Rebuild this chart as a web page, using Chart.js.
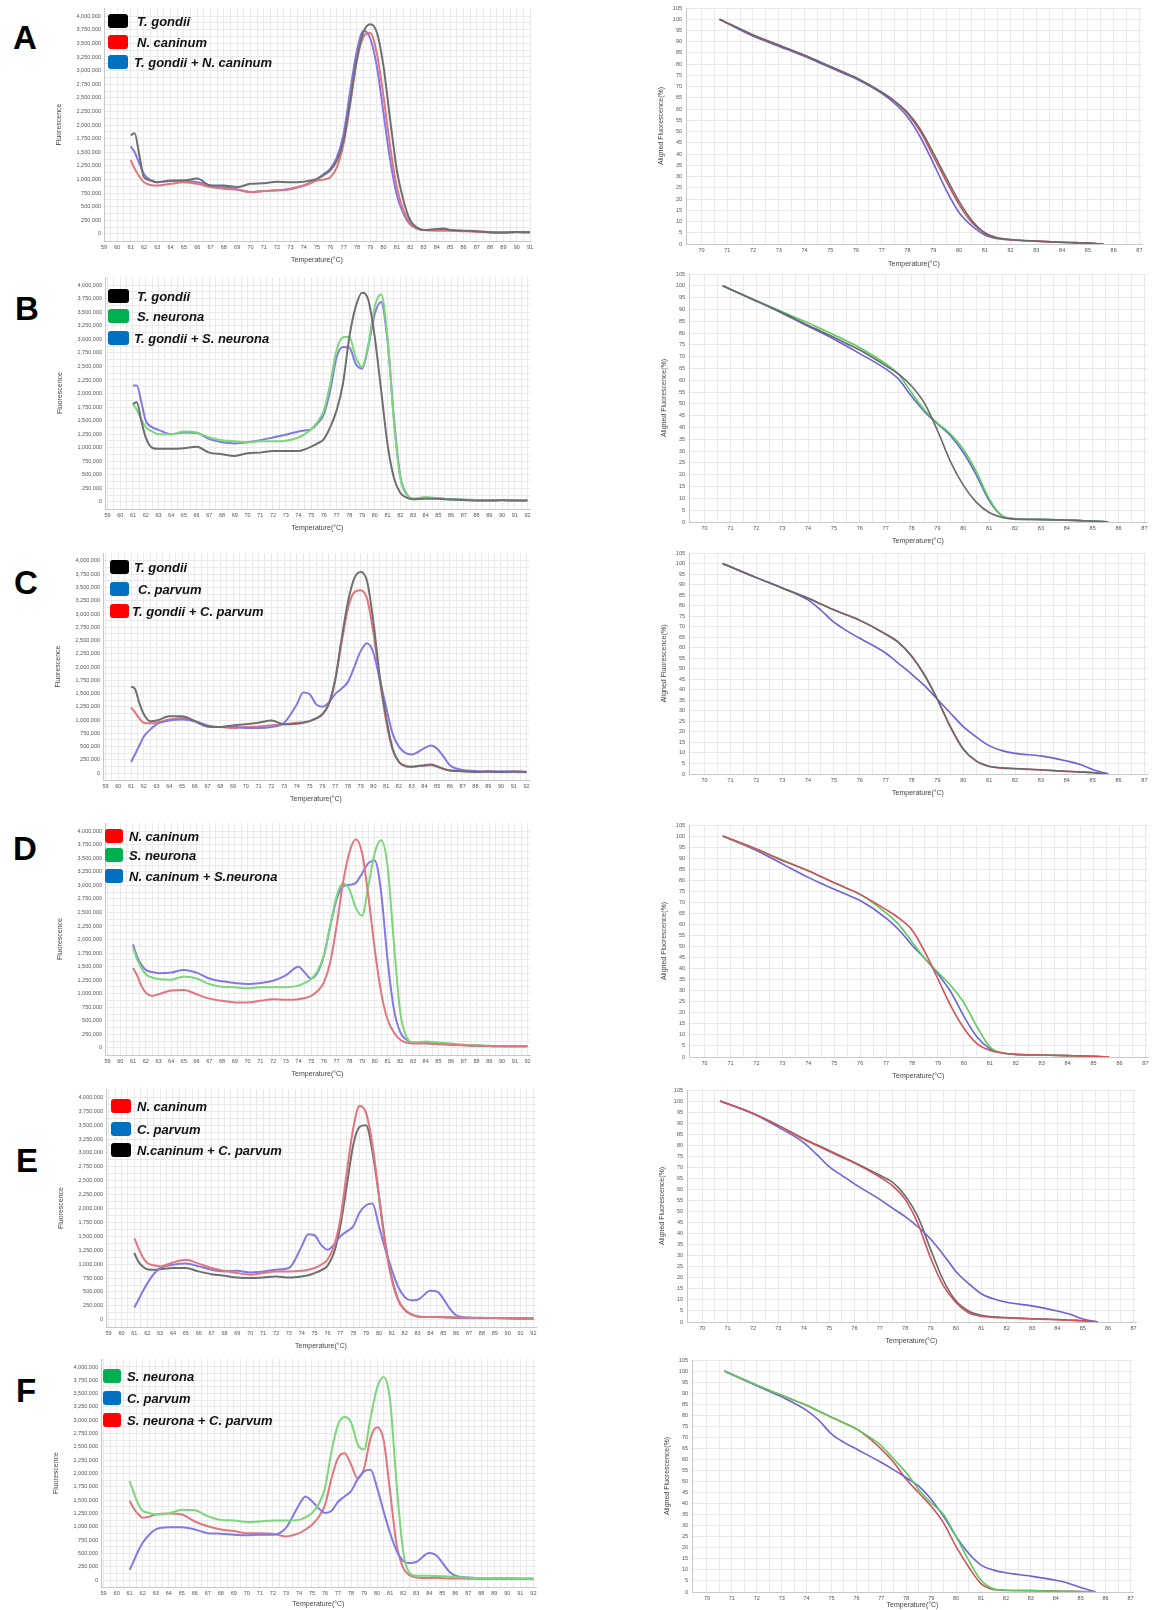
<!DOCTYPE html>
<html>
<head>
<meta charset="utf-8">
<script src="https://cdn.jsdelivr.net/npm/chart.js@4.4.1/dist/chart.umd.min.js"></script>
<style>
  html, body { margin: 0; padding: 0; background: #fff; overflow: hidden; }
  #page { position: relative; width: 1155px; height: 1610px; }
  #page canvas { position: absolute; }
  .letter { position: absolute; font: bold 33px 'Liberation Sans', Arial, sans-serif; line-height: 1; transform: translate(-50%, -50%); color: #000; }
  .sw { position: absolute; height: 14px; border-radius: 3px; }
  .key { position: absolute; font: italic bold 13px 'Liberation Sans', Arial, sans-serif; line-height: 1; transform: translateY(-50%); color: #111; white-space: nowrap; }
</style>
</head>
<body>
<div id="page"></div>
<script>
// ---- melt peak data (left column), fluorescence in thousands ----
const meltTemps = [61, 61.3, 61.65, 62, 62.5, 63, 64, 65, 66, 67, 68, 69, 70, 71, 72, 73, 74, 74.5, 75, 75.5, 76, 76.5, 77, 77.5, 78, 78.5, 79, 79.5, 80, 80.5, 81, 81.5, 82, 82.5, 83, 84, 84.5, 85, 85.5, 86, 87, 88, 89, 90, 91, 92];

const meltA_tgondii = [1810, 1850, 1450, 1040, 980, 950, 980, 980, 1020, 890, 890, 860, 920, 930, 960, 950, 960, 980, 1010, 1080, 1170, 1350, 1720, 2450, 3220, 3710, 3850, 3700, 3070, 2090, 1170, 610, 250, 120, 70, 90, 100, 70, 65, 60, 50, 30, 25, 35, 30, 30];
const meltA_ncaninum = [1360, 1200, 1060, 950, 900, 890, 920, 950, 920, 860, 830, 810, 770, 790, 800, 820, 890, 930, 980, 1000, 1040, 1230, 1660, 2390, 3190, 3620, 3690, 3310, 2520, 1600, 860, 430, 200, 100, 70, 60, 60, 60, 55, 50, 40, 25, 20, 35, 30, 30];
const meltA_mix = [1610, 1500, 1300, 1100, 990, 950, 970, 980, 950, 890, 860, 820, 770, 790, 800, 830, 890, 940, 1010, 1100, 1200, 1410, 1840, 2640, 3370, 3730, 3590, 3070, 2210, 1350, 710, 370, 170, 100, 70, 80, 85, 70, 60, 55, 45, 30, 25, 35, 30, 30];

const meltB_tgondii = [1810, 1840, 1500, 1190, 1000, 980, 980, 990, 1020, 910, 880, 850, 900, 910, 940, 940, 940, 970, 1020, 1080, 1160, 1380, 1690, 2180, 3040, 3600, 3860, 3720, 3040, 2060, 1070, 450, 170, 80, 50, 60, 60, 60, 50, 45, 35, 25, 25, 30, 25, 25];
const meltB_sneurona = [1810, 1700, 1520, 1380, 1300, 1250, 1250, 1300, 1280, 1190, 1140, 1120, 1100, 1120, 1120, 1130, 1190, 1250, 1340, 1480, 1690, 2180, 2800, 3040, 3050, 2670, 2490, 2910, 3600, 3830, 3040, 1500, 450, 140, 60, 90, 80, 70, 60, 50, 45, 35, 25, 35, 30, 25];
const meltB_mix = [2150, 2150, 1850, 1500, 1380, 1330, 1250, 1280, 1270, 1160, 1100, 1080, 1100, 1140, 1190, 1240, 1300, 1320, 1340, 1450, 1620, 2060, 2670, 2860, 2850, 2550, 2460, 2880, 3470, 3690, 2980, 1560, 480, 150, 60, 80, 75, 65, 55, 50, 40, 30, 25, 35, 30, 25];

const meltC_tgondii = [1630, 1590, 1320, 1110, 980, 990, 1070, 1070, 980, 880, 870, 900, 920, 950, 990, 920, 930, 950, 980, 1030, 1110, 1300, 1750, 2520, 3220, 3670, 3790, 3620, 2850, 1820, 1050, 470, 210, 130, 120, 150, 160, 130, 80, 50, 35, 20, 30, 20, 30, 20];
const meltC_cparvum = [210, 350, 520, 690, 820, 920, 990, 1010, 980, 900, 870, 880, 850, 850, 870, 950, 1300, 1520, 1490, 1300, 1250, 1330, 1490, 1590, 1720, 2000, 2300, 2450, 2270, 1760, 1240, 750, 500, 380, 350, 470, 520, 460, 310, 150, 60, 40, 30, 35, 25, 25];
const meltC_mix = [1240, 1150, 1030, 950, 940, 950, 1010, 1040, 970, 880, 870, 850, 870, 880, 900, 920, 950, 960, 980, 1030, 1110, 1300, 1750, 2450, 3100, 3410, 3450, 3290, 2650, 1760, 980, 440, 210, 140, 120, 140, 150, 120, 80, 50, 35, 20, 30, 20, 30, 20];

const meltD_ncaninum = [1470, 1350, 1150, 1020, 960, 990, 1060, 1070, 990, 910, 870, 840, 840, 870, 900, 890, 900, 920, 960, 1050, 1210, 1580, 2250, 3040, 3600, 3850, 3600, 2800, 1820, 1020, 530, 290, 150, 100, 80, 80, 75, 70, 65, 60, 50, 40, 35, 30, 30, 30];
const meltD_sneurona = [1850, 1650, 1480, 1360, 1300, 1270, 1260, 1320, 1280, 1180, 1130, 1120, 1100, 1120, 1120, 1120, 1150, 1200, 1270, 1420, 1700, 2250, 2800, 3040, 2930, 2590, 2440, 2990, 3600, 3830, 3360, 1950, 660, 200, 100, 120, 110, 100, 90, 80, 60, 50, 40, 35, 30, 30];
const meltD_mix = [1910, 1700, 1540, 1440, 1400, 1380, 1390, 1440, 1390, 1280, 1230, 1200, 1180, 1200, 1240, 1340, 1500, 1390, 1280, 1390, 1700, 2250, 2740, 2980, 3010, 3040, 3220, 3410, 3460, 2870, 1640, 720, 290, 150, 100, 90, 85, 80, 70, 60, 50, 40, 35, 30, 30, 30];

const meltE_ncaninum = [1470, 1300, 1130, 1020, 980, 960, 1030, 1080, 1010, 930, 880, 840, 810, 840, 870, 870, 880, 900, 930, 990, 1080, 1320, 1810, 2650, 3440, 3850, 3720, 3140, 2230, 1320, 720, 350, 180, 100, 60, 50, 50, 50, 45, 40, 35, 30, 30, 30, 25, 25];
const meltE_cparvum = [220, 350, 510, 650, 820, 930, 990, 1010, 960, 900, 870, 880, 850, 870, 900, 930, 1320, 1540, 1520, 1350, 1260, 1350, 1500, 1590, 1680, 1930, 2060, 2090, 1680, 1260, 900, 590, 410, 350, 360, 520, 510, 380, 200, 80, 40, 35, 30, 30, 25, 25];
const meltE_mix = [1200, 1050, 960, 910, 900, 910, 930, 930, 870, 820, 790, 760, 750, 760, 780, 760, 780, 800, 840, 890, 970, 1200, 1680, 2410, 3140, 3470, 3500, 3020, 2230, 1380, 750, 360, 180, 100, 60, 50, 50, 45, 40, 35, 30, 30, 30, 25, 25, 25];

const meltF_sneurona = [1860, 1650, 1430, 1300, 1260, 1230, 1250, 1320, 1310, 1200, 1130, 1120, 1090, 1100, 1120, 1120, 1130, 1180, 1260, 1420, 1730, 2420, 2920, 3060, 2960, 2550, 2450, 3050, 3610, 3810, 3360, 1790, 540, 130, 80, 80, 75, 70, 65, 60, 45, 35, 30, 30, 25, 25];
const meltF_cparvum = [190, 350, 540, 700, 850, 950, 990, 990, 950, 880, 870, 850, 840, 850, 850, 980, 1410, 1570, 1480, 1350, 1260, 1300, 1470, 1570, 1670, 1890, 2040, 2070, 1730, 1290, 880, 550, 360, 320, 340, 510, 470, 330, 170, 80, 50, 30, 30, 30, 25, 25];
const meltF_mix = [1490, 1350, 1240, 1170, 1190, 1230, 1250, 1230, 1100, 1010, 950, 920, 880, 880, 870, 820, 880, 950, 1040, 1180, 1410, 1910, 2290, 2380, 2170, 1910, 2100, 2670, 2870, 2630, 1650, 660, 230, 90, 50, 40, 40, 35, 30, 30, 25, 25, 25, 25, 25, 25];

// ---- aligned melt curves (right column), percent ----
const alignTemps = [70.7, 72, 73, 74, 74.5, 75, 75.5, 76, 77, 77.5, 78, 78.5, 79, 79.5, 80, 80.5, 81, 81.5, 82, 83, 84, 84.5, 85, 85.6];

const alignA_tgondii = [100, 93, 88.5, 84, 81.5, 79, 76.5, 74, 67.5, 63.5, 58.5, 51, 40.5, 29.5, 19, 10.5, 5, 2.8, 2, 1.3, 0.8, 0.6, 0.4, 0];
const alignA_ncaninum = [100, 93, 88.5, 84, 81.5, 79, 76.5, 74, 67.5, 63.5, 58, 50, 39, 28, 17.5, 9.5, 4.8, 2.6, 1.9, 1.3, 0.8, 0.6, 0.4, 0];
const alignA_mix = [100, 92.5, 88, 83.5, 81, 78.5, 76, 73.5, 67, 62.5, 56.5, 47.5, 36, 24, 14, 8, 4, 2.3, 1.8, 1.2, 0.7, 0.5, 0.3, 0];

const alignB_tgondii = [100, 93.7, 88.7, 83.3, 80.8, 78.2, 75.5, 72.8, 66.2, 62.6, 57.6, 50.3, 38.8, 25.7, 15.6, 8.4, 4, 1.9, 1.2, 1, 0.8, 0.6, 0.4, 0];
const alignB_sneurona = [100, 93.7, 89, 84.3, 81.8, 79.3, 76.6, 73.8, 67, 62.6, 54.7, 47.4, 41.9, 37.3, 30.8, 21.4, 9.8, 2.6, 1.4, 1.1, 0.8, 0.6, 0.4, 0];
const alignB_mix = [100, 93.5, 88.4, 82.9, 80.2, 77.4, 74.4, 71.3, 64.8, 60.5, 53.2, 46.7, 41.6, 36.6, 29.4, 20, 9.1, 2.6, 1.4, 1.1, 0.8, 0.6, 0.4, 0];

const alignC_tgondii = [100, 93.3, 88.4, 83.5, 80.7, 77.9, 75.5, 73, 66.4, 62.4, 55.9, 46.9, 35.5, 22.5, 11.9, 6.2, 3.7, 2.9, 2.6, 2, 1.3, 1, 0.7, 0];
const alignC_cparvum = [100, 93.3, 88.4, 82.7, 77.8, 72.1, 68, 64.5, 57.5, 52.5, 47.5, 42, 35.5, 29, 22.5, 17.6, 13.5, 11.1, 9.8, 8.6, 6.2, 4.6, 2.1, 0];
const alignC_mix = [100, 93.3, 88.4, 83.6, 80.8, 78, 75.6, 73.1, 66.6, 62.6, 56.2, 47.2, 35.5, 22.3, 11.7, 6.1, 3.6, 2.8, 2.5, 1.9, 1.2, 1, 0.6, 0];

const alignD_ncaninum = [100, 94.1, 88.9, 84.3, 81.6, 78.9, 76.3, 73.6, 66.7, 62.8, 57.5, 47.5, 35.3, 23, 13, 6.1, 3.1, 1.8, 1.2, 0.9, 0.6, 0.5, 0.3, 0];
const alignD_sneurona = [100, 94.1, 89.2, 84.3, 81.6, 78.9, 76.3, 73.6, 65.2, 59.8, 52.1, 44.5, 38.3, 32.2, 24.5, 13.8, 4.6, 1.8, 1.2, 0.9, 0.6, 0.5, 0.3, 0];
const alignD_mix = [100, 93.5, 87.4, 81.3, 78.5, 75.9, 73.4, 70.8, 62.9, 57.5, 50.6, 44.5, 37.6, 29.4, 18.4, 9.2, 3.8, 1.8, 1.2, 0.9, 0.6, 0.5, 0.3, 0];

const alignE_ncaninum = [100, 94.4, 89, 82.7, 80, 77.3, 74.6, 71.9, 65.6, 61.7, 55.5, 44.6, 29.1, 16.6, 8.9, 4.2, 2.6, 2.1, 1.9, 1.4, 1, 0.8, 0.6, 0];
const alignE_cparvum = [100, 94.4, 88.2, 81.2, 76, 70.3, 66.4, 62.5, 55.5, 51.5, 47.7, 43.1, 37.6, 30.6, 22.9, 17.4, 12.8, 10.4, 8.9, 7.3, 5, 3.5, 1.4, 0];
const alignE_mix = [100, 94.4, 89, 83, 80.3, 77.6, 74.9, 72.2, 66.4, 63.3, 57.1, 47.7, 33, 19, 9.6, 5, 3, 2.3, 2, 1.5, 1.1, 0.8, 0.6, 0];

const alignF_sneurona = [100, 93.6, 89, 84.5, 81.8, 79.1, 76.5, 73.8, 66.2, 60.1, 54, 46.4, 40.3, 35, 25.1, 14.5, 5.3, 1.5, 0.8, 0.6, 0.4, 0.3, 0.2, 0];
const alignF_cparvum = [100, 93.3, 88.3, 82.2, 77.6, 71.5, 67.7, 64.7, 58.6, 55.3, 51.7, 47.9, 41.9, 34.2, 25.1, 17.5, 12.2, 9.9, 8.7, 7.2, 5.3, 4, 2, 0];
const alignF_mix = [100, 93.6, 89, 84.5, 81.8, 79.1, 76.5, 73.8, 64.7, 58.6, 51, 44.9, 38.8, 31.2, 20.5, 11.4, 3.8, 1.2, 0.8, 0.6, 0.4, 0.3, 0.2, 0];

// ---- legend names ----
const namesA = ['T. gondii', 'N. caninum', 'T. gondii  + N. caninum'];
const namesB = ['T. gondii', 'S. neurona', 'T. gondii + S. neurona'];
const namesC = ['T. gondii', 'C. parvum', 'T. gondii + C. parvum'];
const namesD = ['N. caninum', 'S. neurona', 'N. caninum + S.neurona'];
const namesE = ['N. caninum', 'C. parvum', 'N.caninum + C. parvum'];
const namesF = ['S. neurona', 'C. parvum', 'S. neurona + C. parvum'];

// ---- tick labels ----
const fluorTicks = [0, 250000, 500000, 750000, 1000000, 1250000, 1500000, 1750000, 2000000, 2250000, 2500000, 2750000, 3000000, 3250000, 3500000, 3750000, 4000000];
const meltTickLabels = [59, 60, 61, 62, 63, 64, 65, 66, 67, 68, 69, 70, 71, 72, 73, 74, 75, 76, 77, 78, 79, 80, 81, 82, 83, 84, 85, 86, 87, 88, 89, 90, 91, 92];
const percentTicks = [0, 5, 10, 15, 20, 25, 30, 35, 40, 45, 50, 55, 60, 65, 70, 75, 80, 85, 90, 95, 100, 105];
const alignTickLabels = [70, 71, 72, 73, 74, 75, 76, 77, 78, 79, 80, 81, 82, 83, 84, 85, 86, 87];

// ---- styling ----
const lineColors = { black: '#6f6f6f', red: '#e2757e', green: '#7ad77a', blue: '#8279e6' };
const alignColors = { black: '#6a6a6a', red: '#d2515a', green: '#5acd5a', blue: '#6a62d8' };
const keyColors = { black: '#000000', red: '#ff0000', green: '#00b050', blue: '#0070c0' };
const FONT = 'Liberation Sans';

const panels = [
  { letter: 'A', lx: 25, ly: 37, names: namesA, colors: ['black', 'red', 'blue'],
    melt: [meltA_tgondii, meltA_ncaninum, meltA_mix], align: [alignA_tgondii, alignA_ncaninum, alignA_mix],
    left: { y4M: 16, y0: 234, l: 104, r: 530, xMin: 59, xMax: 91, xH: 24 },
    right: { yTop: 8, y0: 244, l: 686, r: 1142, xH: 25 },
    key: { rows: [21, 42, 62], swL: 108, swR: 128, tx: [137, 137, 134] } },
  { letter: 'B', lx: 27, ly: 308, names: namesB, colors: ['black', 'green', 'blue'],
    melt: [meltB_tgondii, meltB_sneurona, meltB_mix], align: [alignB_tgondii, alignB_sneurona, alignB_mix],
    left: { y4M: 285, y0: 502, l: 105, r: 530, xMin: 58.8, xMax: 92.2, xH: 24 },
    right: { yTop: 274, y0: 522, l: 689, r: 1147, xH: 24 },
    key: { rows: [296, 316, 338], swL: 108, swR: 129, tx: [137, 137, 134] } },
  { letter: 'C', lx: 26, ly: 582, names: namesC, colors: ['black', 'blue', 'red'],
    melt: [meltC_tgondii, meltC_cparvum, meltC_mix], align: [alignC_tgondii, alignC_cparvum, alignC_mix],
    left: { y4M: 561, y0: 773, l: 103, r: 529, xMin: 58.8, xMax: 92.2, xH: 24 },
    right: { yTop: 553, y0: 774, l: 689, r: 1147, xH: 24 },
    key: { rows: [567, 589, 611], swL: 110, swR: 129, tx: [134, 138, 132] } },
  { letter: 'D', lx: 25, ly: 848, names: namesD, colors: ['red', 'green', 'blue'],
    melt: [meltD_ncaninum, meltD_sneurona, meltD_mix], align: [alignD_ncaninum, alignD_sneurona, alignD_mix],
    left: { y4M: 831, y0: 1048, l: 105, r: 530, xMin: 58.8, xMax: 92.2, xH: 24 },
    right: { yTop: 825, y0: 1057, l: 689, r: 1148, xH: 24 },
    key: { rows: [836, 855, 876], swL: 105, swR: 123, tx: [129, 129, 129] } },
  { letter: 'E', lx: 27, ly: 1160, names: namesE, colors: ['red', 'blue', 'black'],
    melt: [meltE_ncaninum, meltE_cparvum, meltE_mix], align: [alignE_ncaninum, alignE_cparvum, alignE_mix],
    left: { y4M: 1097, y0: 1319, l: 106, r: 536, xMin: 58.8, xMax: 92.2, xH: 24 },
    right: { yTop: 1090, y0: 1322, l: 687, r: 1136, xH: 24 },
    key: { rows: [1106, 1129, 1150], swL: 111, swR: 131, tx: [137, 137, 137] } },
  { letter: 'F', lx: 26, ly: 1390, names: namesF, colors: ['green', 'blue', 'red'],
    melt: [meltF_sneurona, meltF_cparvum, meltF_mix], align: [alignF_sneurona, alignF_cparvum, alignF_mix],
    left: { y4M: 1367, y0: 1580, l: 101, r: 536, xMin: 58.8, xMax: 92.2, xH: 22 },
    right: { yTop: 1360, y0: 1592, l: 692, r: 1133, xH: 18 },
    key: { rows: [1376, 1398, 1420], swL: 103, swR: 121, tx: [127, 127, 127] } }
];

const page = document.getElementById('page');
const PAD = 6;

function withHalves(ticks) {
  const out = [];
  ticks.forEach((t, i) => {
    out.push(t);
    if (i < ticks.length - 1) out.push((t + ticks[i + 1]) / 2);
  });
  return out;
}

function zeroPad(scale) {
  scale.paddingTop = 0; scale.paddingBottom = 0;
  scale.paddingLeft = 0; scale.paddingRight = 0;
}

function addChart(box, s) {
  const c = document.createElement('canvas');
  const w = Math.round(box.r - box.l + s.yW + PAD);
  const h = Math.round(box.b - box.t + s.xH + PAD);
  c.width = w; c.height = h;
  c.style.width = w + 'px'; c.style.height = h + 'px';
  c.style.left = Math.round(box.l - s.yW) + 'px';
  c.style.top = Math.round(box.t - PAD) + 'px';
  page.appendChild(c);

  const xLabels = new Set(s.xLabels);
  const yLabels = new Set(s.yLabels);
  const gridColor = '#e9e9e9';
  const tickFont = { family: FONT, size: 5.5 };
  const titleFont = { family: FONT, size: 7 };

  new Chart(c, {
    type: 'line',
    data: {
      datasets: s.series.map((vals, i) => ({
        data: s.temps.map((t, j) => ({ x: t, y: vals[j] * s.unit })),
        borderColor: s.colors[i],
        borderWidth: s.lineW,
        pointRadius: 0,
        cubicInterpolationMode: 'monotone',
        fill: false
      }))
    },
    options: {
      responsive: false,
      animation: false,
      devicePixelRatio: 1,
      layout: { padding: { top: PAD, right: PAD, left: 0, bottom: 0 } },
      plugins: { legend: { display: false }, tooltip: { enabled: false } },
      scales: {
        x: {
          type: 'linear', min: s.xMin, max: s.xMax,
          afterBuildTicks: sc => { sc.ticks = withHalves(s.xLabels).map(v => ({ value: v })); },
          afterFit: sc => { sc.height = s.xH; zeroPad(sc); },
          grid: { color: gridColor, drawTicks: false },
          border: { color: '#c8c8c8' },
          ticks: {
            autoSkip: false, maxRotation: 0, padding: 3, color: '#555', font: tickFont,
            callback: v => xLabels.has(v) ? String(v) : ''
          },
          title: { display: true, text: 'Temperature(°C)', color: '#444', font: titleFont, padding: { top: 0, bottom: s.xTitlePad } }
        },
        y: {
          type: 'linear', min: s.yMin, max: s.yMax,
          afterBuildTicks: sc => { sc.ticks = (s.yHalves ? withHalves(s.yLabels) : s.yLabels).map(v => ({ value: v })); },
          afterFit: sc => { sc.width = s.yW; zeroPad(sc); },
          grid: { color: gridColor, drawTicks: false },
          border: { color: '#c8c8c8' },
          ticks: {
            autoSkip: false, padding: s.tickPad, color: '#555', font: tickFont,
            callback: v => yLabels.has(v) ? v.toLocaleString('en-US') : ''
          },
          title: { display: true, text: s.yTitle, color: '#444', font: titleFont, padding: { top: s.titlePad, bottom: 0 } }
        }
      }
    }
  });
}

function addDiv(cls, text, left, top, extra) {
  const d = document.createElement('div');
  d.className = cls;
  if (text) d.textContent = text;
  d.style.left = left + 'px';
  d.style.top = top + 'px';
  Object.assign(d.style, extra || {});
  page.appendChild(d);
}

panels.forEach(p => {
  // melt peak chart
  const L = p.left;
  const ppu = (L.y0 - L.y4M) / 4000000;
  addChart({ l: L.l, r: L.r, t: L.y4M - 150000 * ppu, b: L.y0 + 130000 * ppu }, {
    temps: meltTemps, series: p.melt, unit: 1000, lineW: 2,
    colors: p.colors.map(k => lineColors[k]),
    xMin: L.xMin, xMax: L.xMax, yMin: -130000, yMax: 4150000,
    xLabels: meltTickLabels, yLabels: fluorTicks, yHalves: true,
    yW: 58, xH: L.xH, xTitlePad: 1, tickPad: 3, titlePad: 9, yTitle: 'Fluorescence'
  });

  // aligned melt curve chart
  const R = p.right;
  addChart({ l: R.l, r: R.r, t: R.yTop, b: R.y0 }, {
    temps: alignTemps, series: p.align, unit: 1, lineW: 1.6,
    colors: p.colors.map(k => alignColors[k]),
    xMin: 69.4, xMax: 87.1, yMin: 0, yMax: 105,
    xLabels: alignTickLabels, yLabels: percentTicks, yHalves: false,
    yW: 36, xH: R.xH, xTitlePad: 1, tickPad: 4, titlePad: 7, yTitle: 'Aligned Fluorescence(%)'
  });

  // panel letter and legend
  addDiv('letter', p.letter, p.lx, p.ly);
  p.names.forEach((name, i) => {
    const y = p.key.rows[i];
    addDiv('sw', '', p.key.swL, y - 7, { width: (p.key.swR - p.key.swL) + 'px', background: keyColors[p.colors[i]] });
    addDiv('key', name, p.key.tx[i], y);
  });
});
</script>
</body>
</html>
